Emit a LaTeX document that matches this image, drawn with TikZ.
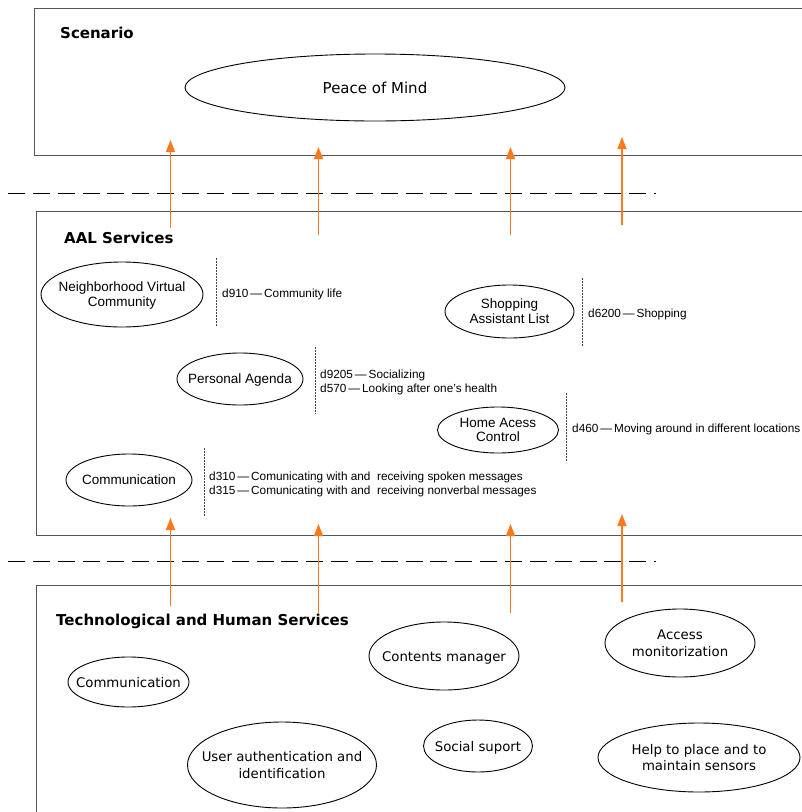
\documentclass[tikz,border=0pt]{standalone}
\usepackage{fontspec}
\setmainfont{Liberation Sans}
\newfontfamily\verd{DejaVu Sans}
\usetikzlibrary{shapes.geometric,arrows.meta}
\definecolor{arroworange}{RGB}{255,120,30}
\definecolor{boxgray}{RGB}{85,85,85}
\definecolor{sepgray}{RGB}{70,70,70}
\newcommand{\etext}[1]{\makebox[0pt]{\smash{\raisebox{-0.4em}{\begin{tabular}{@{}c@{}}#1\end{tabular}}}}}
\tikzset{
  layerbox/.style={draw=boxgray, line width=1pt},
  heading/.style={anchor=west, inner sep=0pt, font=\verd\bfseries\fontsize{15}{17}\selectfont},
  ell/.style={draw=black, line width=0.9pt, ellipse, inner sep=0pt, outer sep=0pt},
  aalell/.style={ell, font=\fontsize{13.5}{14.5}\selectfont},
  techell/.style={ell, font=\verd\fontsize{13.3}{16.5}\selectfont},
  note/.style={anchor=west, inner sep=0pt, align=left, font=\fontsize{11.8}{14.8}\selectfont},
  sepline/.style={draw=sepgray, line width=0.8pt, dash pattern=on 2pt off 1pt},
  layersep/.style={draw=black, line width=1pt, dash pattern=on 17pt off 7.85pt},
  uparrow/.style={draw=arroworange, line width=1.5pt, -{Triangle[length=12pt,width=9pt]}}
}
\newcommand{\dd}{\,\textemdash\,}
\begin{document}
\begin{tikzpicture}[x=1pt,y=-1pt]
\useasboundingbox (0,0) rectangle (802,812);
\clip (0,0) rectangle (802,812);
\fill[white] (0,0) rectangle (802,812);

% layer boxes
\draw[layerbox] (34,8) rectangle (820,155);
\draw[layerbox] (36,211) rectangle (820,535);
\draw[layerbox] (36,585) rectangle (820,830);

% layer separators
\coordinate (s1a) at (8,193); \coordinate (s1b) at (656,193);
\coordinate (s2a) at (8,561); \coordinate (s2b) at (656,561);
\draw[layersep] (s1a) -- (s1b);
\draw[layersep] (s2a) -- (s2b);

% headings
\node[heading] (hsc) at (60,32.5) {Scenario};
\node[heading] (haal) at (64,237.5) {AAL Services};
\node[heading] (htech) at (56,621.5) {Technological and Human Services};

% scenario
\node[ell, minimum width=380pt, minimum height=67pt, font=\verd\fontsize{15}{17}\selectfont] (peace) at (375,87.5) {\etext{Peace of Mind}};

% AAL services
\node[aalell, minimum width=162pt, minimum height=65pt] (nvc) at (122,294.5) {\etext{Neighborhood Virtual\\Community}};
\node[aalell, minimum width=126pt, minimum height=52pt] (pa) at (240,379) {\etext{Personal Agenda}};
\node[aalell, minimum width=126pt, minimum height=52pt] (comm) at (129,480) {\etext{Communication}};
\node[aalell, minimum width=129pt, minimum height=53pt] (sal) at (509.5,311.5) {\etext{Shopping\\Assistant List}};
\node[aalell, minimum width=121pt, minimum height=46pt] (hac) at (498,430) {\etext{Home Acess\\Control}};

% separators and notes
\coordinate (v1a) at (216,258); \coordinate (v1b) at (216,326);
\draw[sepline] (v1a) -- (v1b);
\node[note] (n1) at (222,294) {d910\dd Community life};

\coordinate (v2a) at (315,347); \coordinate (v2b) at (315,414);
\draw[sepline] (v2a) -- (v2b);
\node[note] (n2) at (320,382.5) {d9205\dd Socializing\\d570\dd Looking after one’s health};

\coordinate (v3a) at (204,448); \coordinate (v3b) at (204,516);
\draw[sepline] (v3a) -- (v3b);
\node[note] (n3) at (209,484.5) {d310\dd Comunicating with and~ receiving spoken messages\\d315\dd Comunicating with and~ receiving nonverbal messages};

\coordinate (v4a) at (582,278); \coordinate (v4b) at (582,347);
\draw[sepline] (v4a) -- (v4b);
\node[note] (n4) at (588,314) {d6200\dd Shopping};

\coordinate (v5a) at (566,393); \coordinate (v5b) at (566,462);
\draw[sepline] (v5a) -- (v5b);
\node[note] (n5) at (572,429) {d460\dd Moving around in different locations};

% technological and human services
\node[techell, minimum width=121pt, minimum height=50pt] (tcomm) at (128.5,682) {\etext{Communication}};
\node[techell, minimum width=150pt, minimum height=68pt] (cm) at (444,656) {\etext{Contents manager}};
\node[techell, minimum width=150pt, minimum height=68pt] (am) at (680,643) {\etext{Access\\monitorization}};
\node[techell, minimum width=189pt, minimum height=86pt] (ua) at (282,765) {\etext{User authentication and\\identification}};
\node[techell, minimum width=109pt, minimum height=52pt] (ss) at (478,746) {\etext{Social suport}};
\node[techell, minimum width=202pt, minimum height=69pt] (hp) at (699,757.5) {\etext{Help to place and to\\maintain sensors}};

% arrows AAL -> scenario
\coordinate (a1s) at (170.5,228); \coordinate (a1e) at (170.5,140);
\coordinate (a2s) at (318.5,235); \coordinate (a2e) at (318.5,147);
\coordinate (a3s) at (510.5,235); \coordinate (a3e) at (510.5,147);
\coordinate (a4s) at (622,225); \coordinate (a4e) at (622,137);
\draw[uparrow] (a1s) -- (a1e);
\draw[uparrow] (a2s) -- (a2e);
\draw[uparrow] (a3s) -- (a3e);
\draw[uparrow] (a4s) -- (a4e);

% arrows tech -> AAL
\coordinate (b1s) at (170.5,606); \coordinate (b1e) at (170.5,518);
\coordinate (b2s) at (318.5,613); \coordinate (b2e) at (318.5,524);
\coordinate (b3s) at (510.5,613); \coordinate (b3e) at (510.5,524);
\coordinate (b4s) at (622,602); \coordinate (b4e) at (622,514);
\draw[uparrow] (b1s) -- (b1e);
\draw[uparrow] (b2s) -- (b2e);
\draw[uparrow] (b3s) -- (b3e);
\draw[uparrow] (b4s) -- (b4e);
\end{tikzpicture}
\end{document}
